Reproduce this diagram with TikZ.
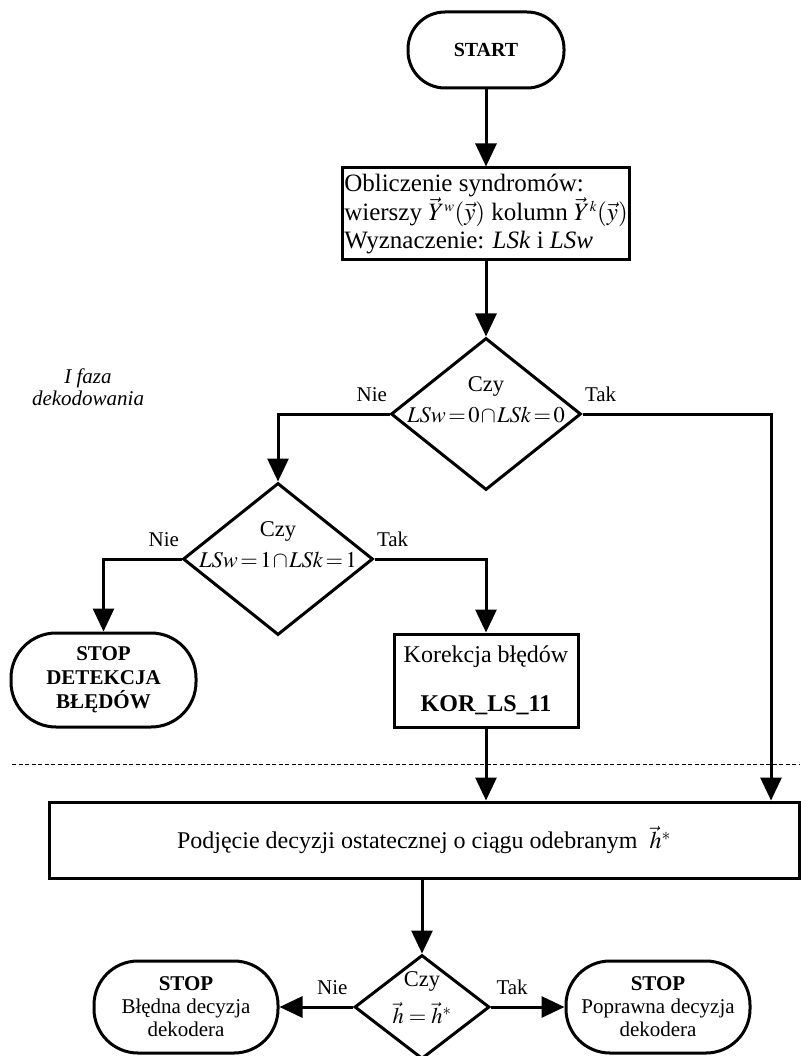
\documentclass[tikz,border=0pt]{standalone}
\usepackage{mathptmx}
\usepackage{fontspec}
\setmainfont{Liberation Serif}
\usetikzlibrary{shapes.geometric,positioning,arrows.meta}

\newcommand{\warunek}[1]{$\thickmuskip=2mu\relax\medmuskip=1mu\relax #1$}

\tikzset{
  line/.style={line width=3pt},
  flow/.style={line, -{Triangle[length=23pt,width=21pt]}},
  dashline/.style={line width=0.9pt, dash pattern=on 4pt off 2.5pt},
  terminal/.style={draw, line width=3pt, rectangle, rounded corners=37pt,
    minimum width=156pt, minimum height=76pt, align=center,
    font=\fontsize{20}{23}\selectfont\bfseries},
  process/.style={draw, line width=3pt, rectangle, align=center,
    font=\fontsize{24}{27}\selectfont},
  decision/.style={draw, line width=3pt, diamond, inner sep=0pt,
    minimum width=190pt, minimum height=152pt},
  question/.style={align=center, font=\fontsize{22.5}{31}\selectfont},
  answer/.style={font=\fontsize{21}{22}\selectfont, inner sep=1pt, yshift=10pt},
}

\begin{document}
\begin{tikzpicture}[x=1pt,y=-1pt]
\useasboundingbox (0,0) rectangle (800,1056);

% opis fazy
\node (phase) [font=\fontsize{21}{22}\selectfont\itshape, align=center] at (88,387) {I faza\\dekodowania};

\node (start) [terminal] at (486,50) {START};
\node (synd) [process, below=77pt of start, align=left, minimum width=277pt, minimum height=92pt,
  inner sep=2pt, font=\fontsize{25}{27.5}\selectfont]
  {Obliczenie syndromów:\\wierszy $\vec{Y}^{\scriptscriptstyle w}(\vec{y})$ kolumn $\vec{Y}^{\scriptscriptstyle k}(\vec{y})$\\Wyznaczenie: \textit{LSk} i \textit{LSw}};

\node (dec1) [decision, below=75pt of synd] {};
\node (q1) [question, yshift=14pt] at (dec1.center) {Czy\\\warunek{\mathit{LSw}=0\cap\mathit{LSk}=0}};

\node (dec2) [decision] at (278,559) {};
\node (q2) [question, yshift=14pt] at (dec2.center) {Czy\\\warunek{\mathit{LSw}=1\cap\mathit{LSk}=1}};

\node (stopdet) [terminal, minimum width=185pt, minimum height=94pt, rounded corners=45pt,
  font=\fontsize{21}{24}\selectfont\bfseries] at (103.5,680) {STOP\\DETEKCJA\\BŁĘDÓW};
\node (kor) [process, minimum width=184pt, minimum height=93pt] at (486,680.5)
  {Korekcja błędów\\[22pt]\textbf{KOR\_LS\_11}};

% granica fazy
\draw[dashline] (12,764) -- (800,764);

\node (final) [process, minimum width=750pt, minimum height=76pt] at (424,840)
  {Podjęcie decyzji ostatecznej o ciągu odebranym~ $\vec{h}^{*}$};

\node (dec3) [decision, minimum width=135pt, minimum height=104pt] at (422,1007) {};
\node (q3) [question, yshift=9pt, font=\fontsize{22.5}{37}\selectfont] at (dec3.center) {Czy\\$\vec{h}=\vec{h}^{*}$};

\node (stopbad) [terminal, minimum width=184pt, minimum height=92pt, rounded corners=44pt,
  font=\fontsize{21}{23}\selectfont] at (186,1007) {\textbf{STOP}\\Błędna decyzja\\dekodera};
\node (stopok) [terminal, minimum width=184pt, minimum height=92pt, rounded corners=44pt,
  font=\fontsize{21}{23}\selectfont] at (658,1007) {\textbf{STOP}\\Poprawna decyzja\\dekodera};

\coordinate (rside) at (771,0);

\draw[flow] (start) -- (synd);
\draw[flow] (synd) -- (dec1);
\draw[flow] (dec1.west) -| node[answer, pos=0, anchor=south east] {Nie} (dec2.north);
\draw[flow] (dec1.east) -| node[answer, pos=0, anchor=south west] {Tak} (final.north -| rside);
\draw[flow] (dec2.west) -| node[answer, pos=0, anchor=south east] {Nie} (stopdet.north);
\draw[flow] (dec2.east) -| node[answer, pos=0, anchor=south west] {Tak} (kor.north);
\draw[flow] (kor.south) -- (kor.south |- final.north);
\draw[flow] (dec3.north |- final.south) -- (dec3.north);
\draw[flow] (dec3.west) -- node[answer, pos=0, anchor=south east, xshift=-3pt] {Nie} (stopbad.east);
\draw[flow] (dec3.east) -- node[answer, pos=0, anchor=south west, xshift=3pt] {Tak} (stopok.west);
\end{tikzpicture}
\end{document}
